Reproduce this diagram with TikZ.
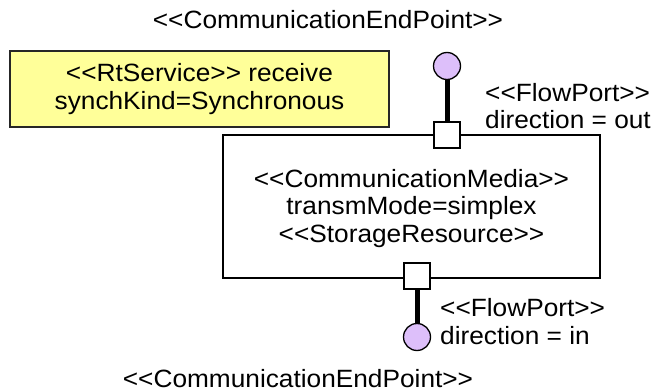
\documentclass[tikz,border=0pt]{standalone}
\usepackage{fontspec}
\newfontfamily\umlfont{Liberation Sans}[FakeStretch=1.05]
\definecolor{notefill}{HTML}{FFFF99}
\definecolor{endpointfill}{HTML}{DDBFFA}
\begin{document}
\begin{tikzpicture}[x=1pt,y=-1pt,
  umltext/.style={font=\umlfont\fontsize{25}{27.5}\selectfont, inner sep=0pt},
  notebox/.style={draw=black!85, line width=1.8pt, fill=notefill, umltext, align=center,
    minimum width=379pt, minimum height=76pt},
  mediabox/.style={draw, line width=1.5pt, fill=white, umltext, align=center,
    minimum width=377pt, minimum height=143pt},
  portbox/.style={draw, line width=1.3pt, fill=white, minimum size=26pt, inner sep=0pt},
  endpoint/.style={circle, draw, line width=1.3pt, fill=endpointfill, minimum size=27pt, inner sep=0pt},
  portlink/.style={line width=5pt}]
\useasboundingbox (0,0) rectangle (654,391);

% stereotype labels of the two end points
\node[umltext, anchor=base] (topEndLabel) at (328,28) {<<CommunicationEndPoint>>};
\node[umltext, anchor=base] (botEndLabel) at (298,387) {<<CommunicationEndPoint>>};

% service note
\node[notebox] (service) at (199.5,89) {<<RtService>> receive\\synchKind=Synchronous};

% communication media component
\node[mediabox] (media) at (411.5,206.5) {};
\node[umltext, align=center] (mediaText) at (411.5,208.5) {<<CommunicationMedia>>\\transmMode=simplex\\<<StorageResource>>};

% flow ports on the component border
\node[portbox] (outPort) at (447,135) {};
\node[portbox] (inPort) at (417,276) {};

% end points
\node[endpoint] (outEnd) at (447,66) {};
\node[endpoint] (inEnd) at (417,337) {};

\draw[portlink] (outEnd) -- (outPort);
\draw[portlink] (inPort) -- (inEnd);

% port labels
\node[umltext, align=left, anchor=west] (outLabel) at (485,106) {<<FlowPort>>\\direction = out};
\node[umltext, align=left, anchor=west] (inLabel) at (440,321.5) {<<FlowPort>>\\direction = in};
\end{tikzpicture}
\end{document}
